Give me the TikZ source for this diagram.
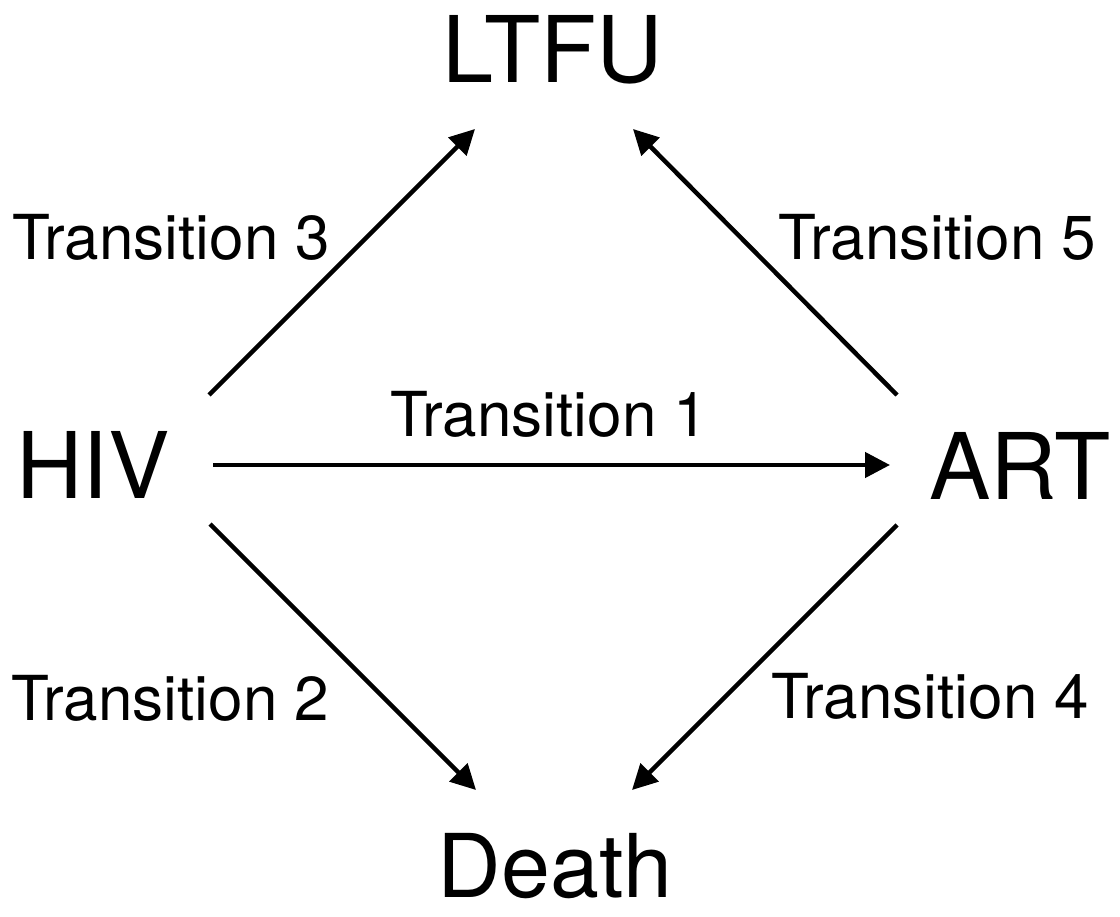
\documentclass[tikz,border=0pt]{standalone}
\usepackage{fontspec}
\setmainfont{TeX Gyre Heros}
\usetikzlibrary{arrows.meta}
\begin{document}
\begin{tikzpicture}[x=1pt,y=-1pt,
  state/.style={inner sep=0pt,font=\fontsize{92}{100}\selectfont},
  tlabel/.style={inner sep=0pt,anchor=base west,font=\fontsize{62}{70}\selectfont},
  arr/.style={line width=4.5pt,-{Triangle[length=25pt,width=25pt]}}]
\useasboundingbox[fill=white] (0,0) rectangle (1120,917);
% states
\node[state,anchor=base] (LTFU) at (553,83) {LTFU};
\node[state,anchor=base] (HIV) at (93,498) {HIV};
\node[state,anchor=base] (ART) at (1020,499) {ART};
\node[state,anchor=base,font=\fontsize{88}{100}\selectfont] (Death) at (555,897) {Death};
% transition labels
\node[tlabel] (t1) at (390,437) {Transition 1};
\node[tlabel] (t3) at (12,260) {Transition 3};
\node[tlabel] (t5) at (778,260) {Transition 5};
\node[tlabel] (t2) at (11,720) {Transition 2};
\node[tlabel] (t4) at (771,718) {Transition 4};
% connector end points
\coordinate (h1) at (213,465);
\coordinate (a1) at (890,465);
\coordinate (h3) at (209,395);
\coordinate (l3) at (475,129);
\coordinate (a5) at (897,395);
\coordinate (l5) at (633,129);
\coordinate (h2) at (210,524);
\coordinate (d2) at (476,790);
\coordinate (a4) at (897,525);
\coordinate (d4) at (632,790);
% connectors
\draw[arr] (h1) -- (a1);
\draw[arr] (h3) -- (l3);
\draw[arr] (a5) -- (l5);
\draw[arr] (h2) -- (d2);
\draw[arr] (a4) -- (d4);
\end{tikzpicture}
\end{document}
